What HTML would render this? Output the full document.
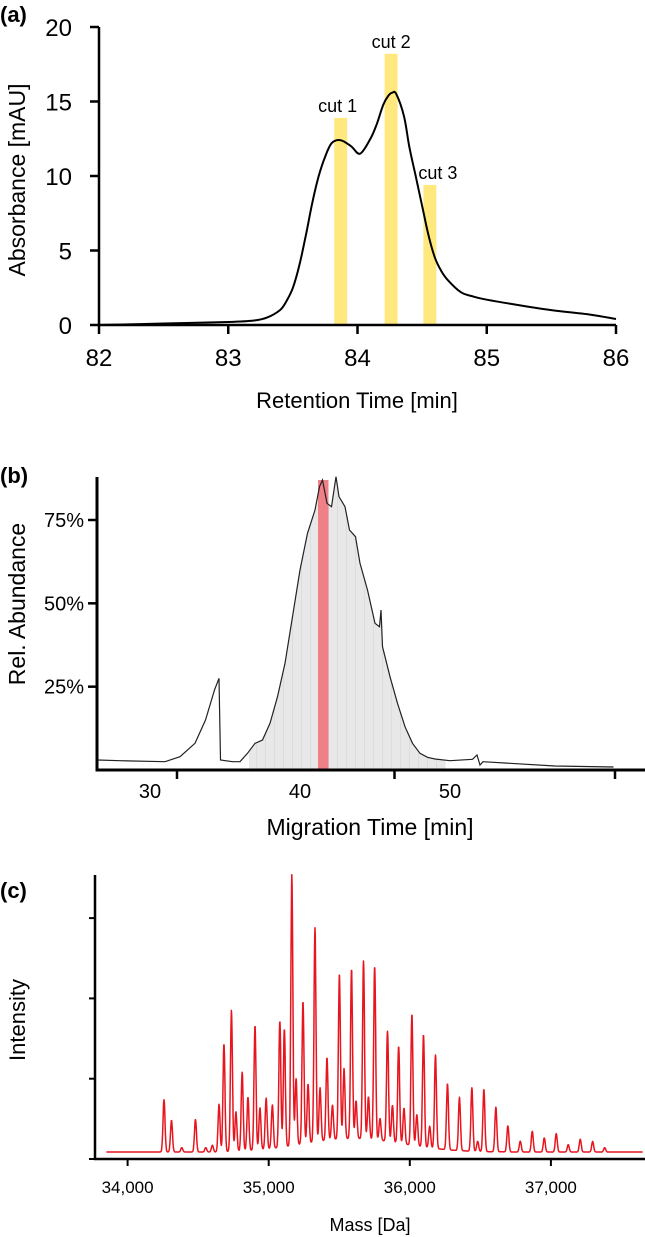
<!DOCTYPE html>
<html><head><meta charset="utf-8"><style>
html,body{margin:0;padding:0;background:#fff;}
svg{display:block;font-family:"Liberation Sans",sans-serif;}
</style></head><body>
<svg id="fig" width="645" height="1237" viewBox="0 0 645 1237">
<g id="ga"></g>
<g id="gb"></g>
<g id="gc"></g>
</svg>
<script>
// ---- Panel A data ----
const aTime = [82,82.5,83,83.2,83.3,83.4,83.45,83.5,83.55,83.6,83.65,83.7,83.75,83.8,83.87,83.95,84.02,84.1,84.15,84.2,84.24,84.27,84.3,84.36,84.4,84.45,84.5,84.55,84.6,84.65,84.7,84.8,84.9,85,85.2,85.5,85.8,86];
const aAbs  = [0,0.1,0.2,0.3,0.5,1.0,1.6,2.5,4,6,8.2,10,11.3,12.2,12.4,12,11.5,12.5,13.5,14.8,15.4,15.6,15.5,14,12,10,8,6,4.5,3.6,3,2.2,1.9,1.7,1.4,1.0,0.7,0.4];
const aCutNames = ["cut 1","cut 2","cut 3"];
const aCutTimes = [83.87,84.26,84.56];
const aCutHeights = [13.9,18.2,9.4];
const aXTicks = [82,83,84,85,86];
const aYTicks = [0,5,10,15,20];
// ---- Panel B data ----
const bTime = [26.5,28,31,32,33,33.7,34.3,34.6,34.7,35.5,36,36.5,37,37.5,38,38.5,39,39.5,40,40.5,41,41.3,41.5,41.8,42.1,42.4,42.6,43,43.3,43.7,44,44.5,45,45.3,45.4,45.5,46,46.5,47,47.5,48,48.5,49,50,51.5,51.8,52,52.2,54,57,60.9];
const bAbund = [3,2.8,2.5,4,8,15,24,27.5,3,2.5,2.5,5,8,9,14,22,32,46,60,71,78,85,87,80,79,88,82,79,72,70,62,54,44,43,48,37,28,20,13,8,5,3.8,3.3,2.8,3.2,4.5,1.5,2.5,2,1.2,0.9];
const bFraction = [36.6,49.7];
const bSelected = [41.2,41.9];
const bYTicks = [25,50,75];
const bYTickLabels = ["25%","50%","75%"];
const bXLabels = [30,40,50];
const bXTickMarks = [31.8,46.3,61];
// ---- Panel C data ----
const cMass = [34258,34311,34384,34481,34554,34601,34648,34683,34736,34768,34812,34853,34903,34938,34982,35026,35079,35111,35164,35194,35243,35279,35328,35364,35413,35452,35501,35534,35587,35619,35672,35707,35751,35789,35842,35877,35921,35959,36015,36050,36097,36141,36182,36267,36352,36440,36481,36525,36610,36695,36783,36868,36953,37038,37123,37208,37296,37381];
const cInt = [19.3,11.7,1.6,12,1.6,2.5,17.5,39.7,52,14.5,29,19.7,46,15.4,18.8,16,46.7,43.5,100,24.4,52.6,21.8,79,19.7,30.5,12.7,61,25.9,62.6,13.9,65.6,15.6,64,8,40.6,13.5,35.7,13.2,48.4,11.5,41.5,8,34.5,24.4,19.7,23.4,3.7,23,16.4,9.6,4,7.6,5.2,6.8,2.7,4.7,3.9,1.6];
const cXTicks = [34000,35000,36000,37000];
const cXTickLabels = ["34,000","35,000","36,000","37,000"];
const cYTicks = [1,2,3];

const NS="http://www.w3.org/2000/svg";
function mk(parent,tag,attrs,text){const e=document.createElementNS(NS,tag);for(const k in attrs)e.setAttribute(k,attrs[k]);if(text!==undefined)e.textContent=text;parent.appendChild(e);return e;}
function smooth(P){let d='M'+P[0][0].toFixed(1)+','+P[0][1].toFixed(1);
 for(let i=0;i<P.length-1;i++){const p0=P[i-1]||P[i],p1=P[i],p2=P[i+1],p3=P[i+2]||p2;
  const c1=[p1[0]+(p2[0]-p0[0])/6,p1[1]+(p2[1]-p0[1])/6],c2=[p2[0]-(p3[0]-p1[0])/6,p2[1]-(p3[1]-p1[1])/6];
  d+=`C${c1[0].toFixed(1)},${c1[1].toFixed(1)} ${c2[0].toFixed(1)},${c2[1].toFixed(1)} ${p2[0].toFixed(1)},${p2[1].toFixed(1)}`;}
 return d;}

// ===== Panel A =====
(function(){
const g=document.getElementById('ga');
const x=t=>99+(t-82)*(616-99)/4, y=v=>325-v*(325-27)/20;
let t=mk(g,'text',{x:0,y:22,'font-size':22,'font-weight':'bold'},'(a)');


aCutTimes.forEach((ct,i)=>{
 const r=mk(g,'rect',{x:x(ct)-6.5,y:y(aCutHeights[i]),width:13,height:y(0)-y(aCutHeights[i]),fill:'#ffe97f'});
 
 
 const l=mk(g,'text',{x:x(ct)-(i==0?3:0)+(i==2?8:0),y:y(aCutHeights[i])-6,'font-size':18,'text-anchor':'middle'},aCutNames[i]);
 
 
});
const p=mk(g,'path',{d:smooth(aTime.map((tt,i)=>[x(tt),y(aAbs[i])])),fill:'none',stroke:'#000','stroke-width':2,'stroke-linejoin':'round'});


const ax=mk(g,'path',{d:`M${x(82)},${y(20)}V${y(0)}H${x(86)}`,fill:'none',stroke:'#000','stroke-width':2.5});


aYTicks.forEach(v=>{
 mk(g,'line',{x1:x(82)-9,x2:x(82),y1:y(v),y2:y(v),stroke:'#000','stroke-width':2.5});
 const l=mk(g,'text',{x:72,y:y(v)+9,'font-size':24,'text-anchor':'end'},String(v));
 
 
});
aXTicks.forEach(v=>{
 mk(g,'line',{x1:x(v),x2:x(v),y1:y(0),y2:y(0)+9,stroke:'#000','stroke-width':2.5});
 const l=mk(g,'text',{x:x(v),y:366,'font-size':24,'text-anchor':'middle'},String(v));
 
 
});
let xt=mk(g,'text',{x:357,y:408,'font-size':22,'text-anchor':'middle'},'Retention Time [min]');


let yt=mk(g,'text',{x:0,y:0,'font-size':23,'text-anchor':'middle',transform:'translate(25,180) rotate(-90)'},'Absorbance [mAU]');


})();

// ===== Panel B =====
(function(){
const g=document.getElementById('gb');
const x=t=>150+(t-30)*15, y=v=>770-v*(770-520)/75;
let t=mk(g,'text',{x:0,y:483,'font-size':22,'font-weight':'bold'},'(b)');


const clip=mk(g,'clipPath',{id:'bclip'});
mk(clip,'rect',{x:x(bFraction[0]),y:y(87),width:x(bFraction[1])-x(bFraction[0]),height:y(0)-y(87)});
function interp(tt){for(let i=1;i<bTime.length;i++){if(bTime[i]>=tt){const f=(tt-bTime[i-1])/(bTime[i]-bTime[i-1]);return bAbund[i-1]+f*(bAbund[i]-bAbund[i-1]);}}return 0;}
let fd=`M${x(bFraction[0])},${y(0)}L${x(bFraction[0])},${y(interp(bFraction[0]))}`;
bTime.forEach((tt,i)=>{if(tt>bFraction[0]&&tt<bFraction[1])fd+=`L${x(tt).toFixed(1)},${y(bAbund[i]).toFixed(1)}`;});
fd+=`L${x(bFraction[1])},${y(interp(bFraction[1]))}L${x(bFraction[1])},${y(0)}Z`;
const fill=mk(g,'path',{d:fd,fill:'#e8e8e8','clip-path':'url(#bclip)'});


for(let tt=bFraction[0]+0.5;tt<bFraction[1];tt+=0.6){
 mk(g,'line',{x1:x(tt),x2:x(tt),y1:Math.max(y(87),y(interp(tt))),y2:y(0),stroke:'#d6d6d6','stroke-width':0.6});
}
const sel=mk(g,'rect',{x:x(bSelected[0]),y:y(87),width:x(bSelected[1])-x(bSelected[0]),height:y(0)-y(87),fill:'#f08088'});


let d=bTime.map((tt,i)=>(i?'L':'M')+x(tt).toFixed(1)+','+y(bAbund[i]).toFixed(1)).join('');
const p=mk(g,'path',{d:d,fill:'none',stroke:'#222','stroke-width':1.2});


const ax=mk(g,'path',{d:`M97,477V770H645`,fill:'none',stroke:'#000','stroke-width':3});


bYTicks.forEach((v,i)=>{
 mk(g,'line',{x1:88,x2:97,y1:y(v),y2:y(v),stroke:'#000','stroke-width':2.5});
 const l=mk(g,'text',{x:84,y:y(v)+7,'font-size':20,'text-anchor':'end'},bYTickLabels[i]);
 
 
});
bXTickMarks.forEach(v=>{
 mk(g,'line',{x1:x(v),x2:x(v),y1:770,y2:779,stroke:'#000','stroke-width':2.5});
});
bXLabels.forEach(v=>{
 const l=mk(g,'text',{x:x(v),y:798,'font-size':20,'text-anchor':'middle'},String(v));
 
 
});
let xt=mk(g,'text',{x:370,y:835,'font-size':23,'text-anchor':'middle'},'Migration Time [min]');


let yt=mk(g,'text',{x:0,y:0,'font-size':23,'text-anchor':'middle',transform:'translate(25,604) rotate(-90)'},'Rel. Abundance');


})();

// ===== Panel C =====
(function(){
const g=document.getElementById('gc');
const x=m=>127.6+(m-34000)*0.1411, y=v=>1152-v*(1152-881)/100;
let t=mk(g,'text',{x:0,y:898,'font-size':22,'font-weight':'bold'},'(c)');


const sig=7;
let pts=[];
for(let m=33850;m<=37650;m+=2){
 let v=0;
 for(let i=0;i<cMass.length;i++){const dm=m-cMass[i];if(Math.abs(dm)<50)v+=cInt[i]*Math.exp(-dm*dm/(2*sig*sig));}
 if(m>34640&&m<36700){const e=(m-35600)/500;v+=5*Math.exp(-e*e);}
 pts.push((pts.length?'L':'M')+x(m).toFixed(1)+','+y(v).toFixed(1));
}
const p=mk(g,'path',{d:pts.join(''),fill:'none',stroke:'#e8141e','stroke-width':1.5,'stroke-linejoin':'round'});


const ax=mk(g,'path',{d:`M95,875V1159H645`,fill:'none',stroke:'#000','stroke-width':2.5});


cYTicks.forEach(v=>{
 const yy=1159-v*80.3;
 mk(g,'line',{x1:89,x2:95,y1:yy,y2:yy,stroke:'#000','stroke-width':2});
});
mk(g,'line',{x1:89,x2:95,y1:1159,y2:1159,stroke:'#000','stroke-width':2});
cXTicks.forEach((v,i)=>{
 mk(g,'line',{x1:x(v),x2:x(v),y1:1159,y2:1166,stroke:'#000','stroke-width':2});
 const l=mk(g,'text',{x:x(v),y:1193,'font-size':17,'text-anchor':'middle'},cXTickLabels[i]);
 
 
});
let xt=mk(g,'text',{x:370,y:1231,'font-size':18,'text-anchor':'middle'},'Mass [Da]');


let yt=mk(g,'text',{x:0,y:0,'font-size':22,'text-anchor':'middle',transform:'translate(25,1020) rotate(-90)'},'Intensity');


})();
</script>
</body></html>
